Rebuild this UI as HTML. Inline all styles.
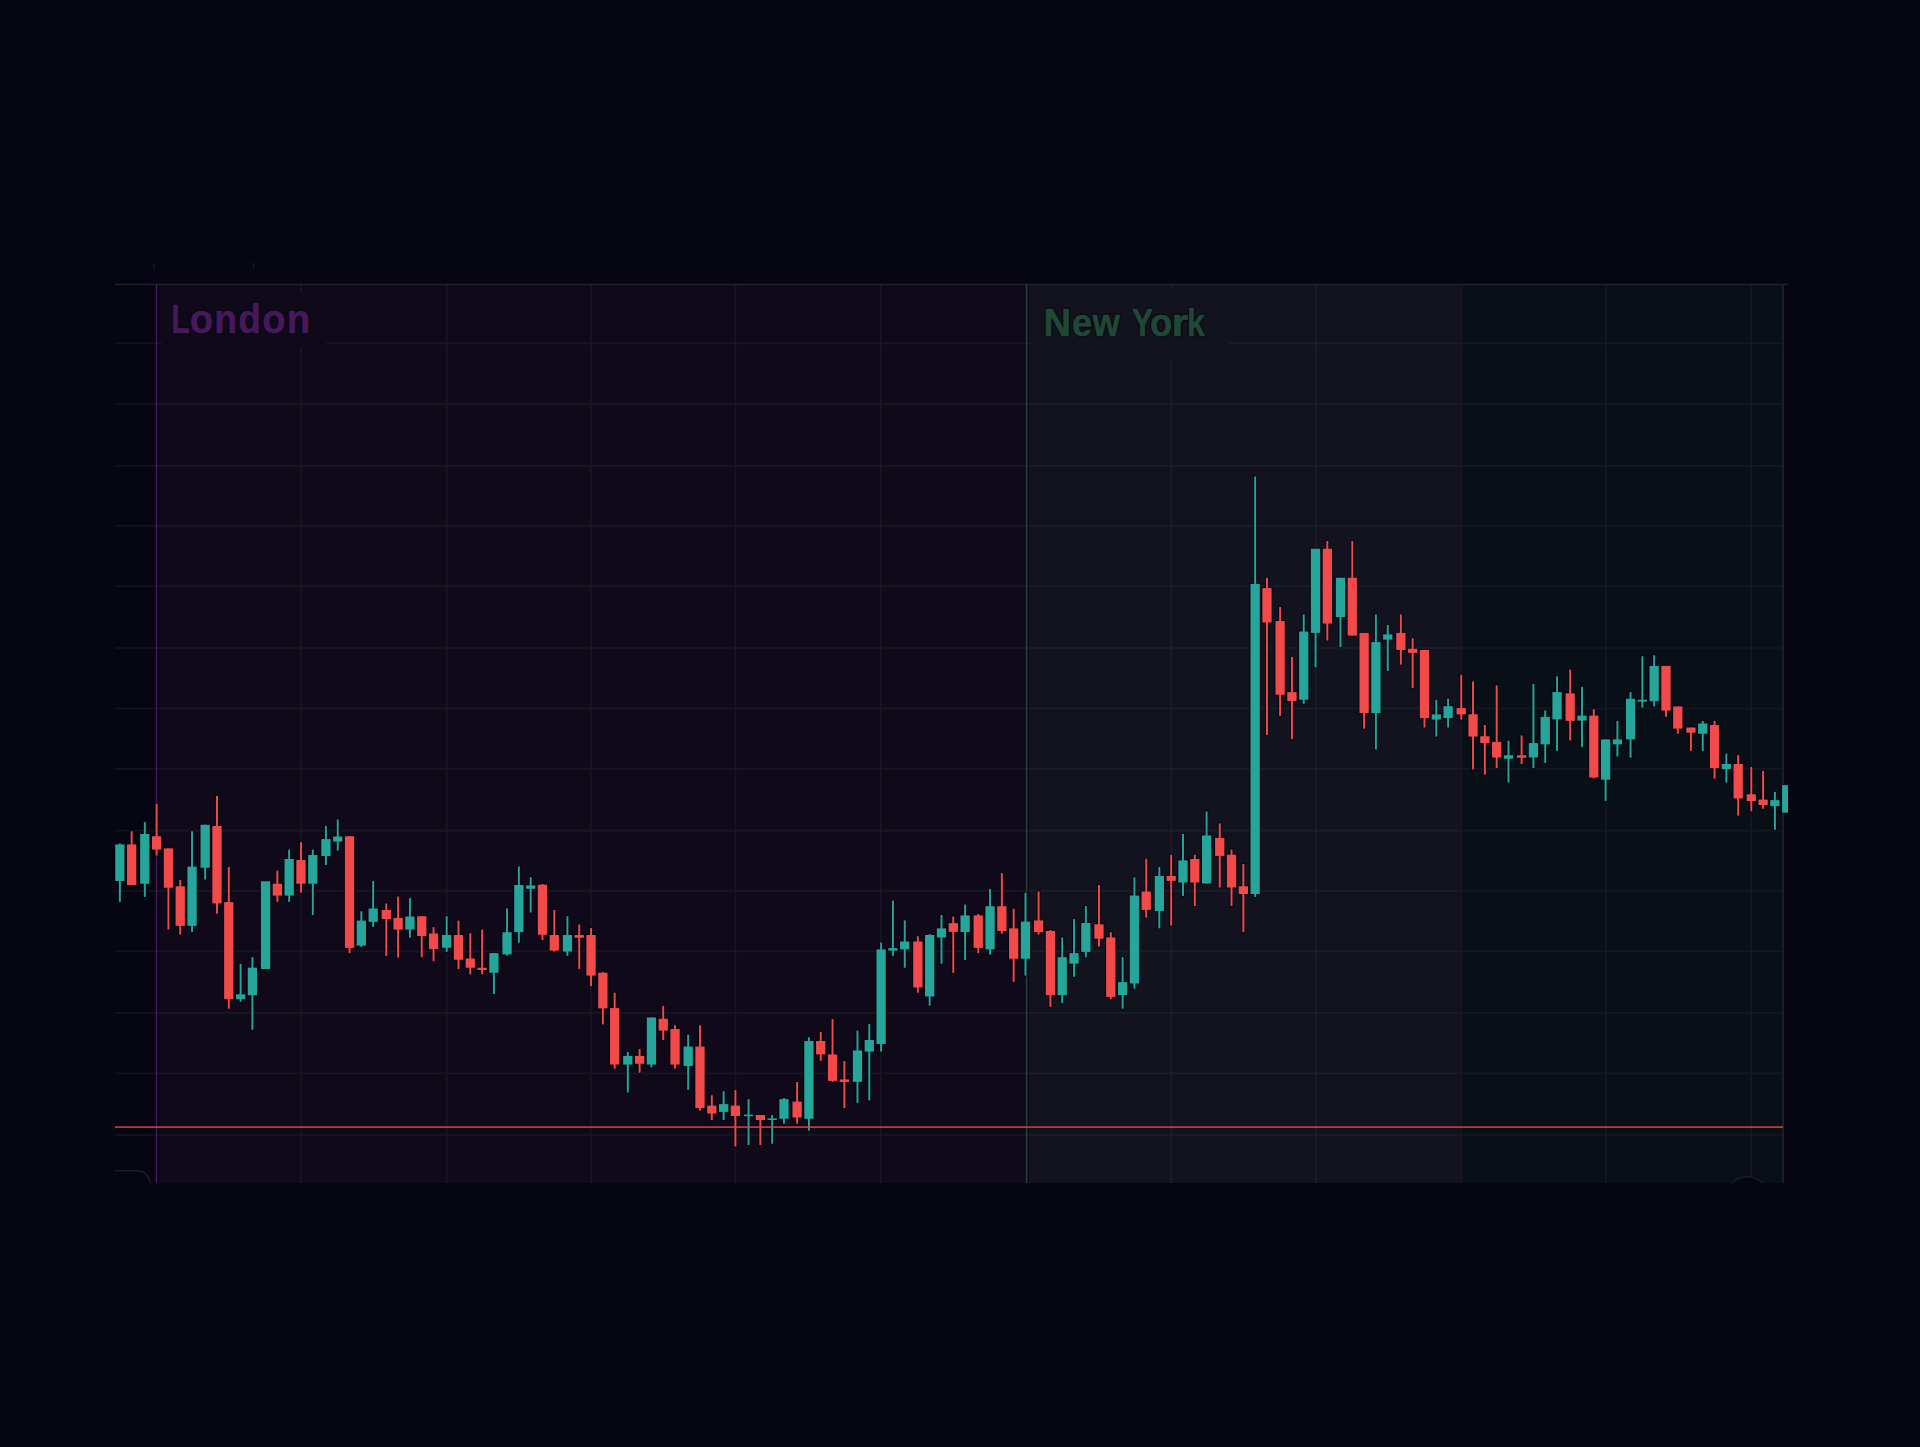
<!DOCTYPE html>
<html><head><meta charset="utf-8"><title>Chart</title>
<style>html,body{margin:0;padding:0;background:#050611;}body{width:1920px;height:1447px;overflow:hidden;font-family:"Liberation Sans",sans-serif;}svg{display:block}</style>
</head><body>
<svg width="1920" height="1447" viewBox="0 0 1920 1447">
<rect x="0" y="0" width="1920" height="1447" fill="#050611"/>
<rect x="158.7" y="284.4" width="870.2" height="898.6" fill="#10091a"/>
<rect x="1028.9" y="284.4" width="431.0" height="898.6" fill="#12131e"/>
<rect x="1459.9" y="284.4" width="323.0999999999999" height="898.6" fill="#090f16"/>
<rect x="115.0" y="342.50" width="43.70" height="1.8" fill="#11131d"/>
<rect x="115.0" y="403.20" width="43.70" height="1.8" fill="#11131d"/>
<rect x="115.0" y="465.00" width="43.70" height="1.8" fill="#11131d"/>
<rect x="115.0" y="525.00" width="43.70" height="1.8" fill="#11131d"/>
<rect x="115.0" y="585.35" width="43.70" height="1.8" fill="#11131d"/>
<rect x="115.0" y="647.10" width="43.70" height="1.8" fill="#11131d"/>
<rect x="115.0" y="707.60" width="43.70" height="1.8" fill="#11131d"/>
<rect x="115.0" y="767.90" width="43.70" height="1.8" fill="#11131d"/>
<rect x="115.0" y="829.70" width="43.70" height="1.8" fill="#11131d"/>
<rect x="115.0" y="890.00" width="43.70" height="1.8" fill="#11131d"/>
<rect x="115.0" y="950.50" width="43.70" height="1.8" fill="#11131d"/>
<rect x="115.0" y="1012.00" width="43.70" height="1.8" fill="#11131d"/>
<rect x="115.0" y="1072.55" width="43.70" height="1.8" fill="#11131d"/>
<rect x="115.0" y="1134.10" width="43.70" height="1.8" fill="#11131d"/>
<rect x="158.7" y="342.50" width="870.20" height="1.8" fill="#181721"/>
<rect x="158.7" y="403.20" width="870.20" height="1.8" fill="#181721"/>
<rect x="158.7" y="465.00" width="870.20" height="1.8" fill="#181721"/>
<rect x="158.7" y="525.00" width="870.20" height="1.8" fill="#181721"/>
<rect x="158.7" y="585.35" width="870.20" height="1.8" fill="#181721"/>
<rect x="158.7" y="647.10" width="870.20" height="1.8" fill="#181721"/>
<rect x="158.7" y="707.60" width="870.20" height="1.8" fill="#181721"/>
<rect x="158.7" y="767.90" width="870.20" height="1.8" fill="#181721"/>
<rect x="158.7" y="829.70" width="870.20" height="1.8" fill="#181721"/>
<rect x="158.7" y="890.00" width="870.20" height="1.8" fill="#181721"/>
<rect x="158.7" y="950.50" width="870.20" height="1.8" fill="#181721"/>
<rect x="158.7" y="1012.00" width="870.20" height="1.8" fill="#181721"/>
<rect x="158.7" y="1072.55" width="870.20" height="1.8" fill="#181721"/>
<rect x="158.7" y="1134.10" width="870.20" height="1.8" fill="#181721"/>
<rect x="300.25" y="284.4" width="1.7" height="898.6" fill="#181721"/>
<rect x="445.95" y="284.4" width="1.7" height="898.6" fill="#181721"/>
<rect x="590.15" y="284.4" width="1.7" height="898.6" fill="#181721"/>
<rect x="734.65" y="284.4" width="1.7" height="898.6" fill="#181721"/>
<rect x="880.05" y="284.4" width="1.7" height="898.6" fill="#181721"/>
<rect x="1028.9" y="342.50" width="431.00" height="1.8" fill="#1b1f29"/>
<rect x="1028.9" y="403.20" width="431.00" height="1.8" fill="#1b1f29"/>
<rect x="1028.9" y="465.00" width="431.00" height="1.8" fill="#1b1f29"/>
<rect x="1028.9" y="525.00" width="431.00" height="1.8" fill="#1b1f29"/>
<rect x="1028.9" y="585.35" width="431.00" height="1.8" fill="#1b1f29"/>
<rect x="1028.9" y="647.10" width="431.00" height="1.8" fill="#1b1f29"/>
<rect x="1028.9" y="707.60" width="431.00" height="1.8" fill="#1b1f29"/>
<rect x="1028.9" y="767.90" width="431.00" height="1.8" fill="#1b1f29"/>
<rect x="1028.9" y="829.70" width="431.00" height="1.8" fill="#1b1f29"/>
<rect x="1028.9" y="890.00" width="431.00" height="1.8" fill="#1b1f29"/>
<rect x="1028.9" y="950.50" width="431.00" height="1.8" fill="#1b1f29"/>
<rect x="1028.9" y="1012.00" width="431.00" height="1.8" fill="#1b1f29"/>
<rect x="1028.9" y="1072.55" width="431.00" height="1.8" fill="#1b1f29"/>
<rect x="1028.9" y="1134.10" width="431.00" height="1.8" fill="#1b1f29"/>
<rect x="1170.55" y="284.4" width="1.7" height="898.6" fill="#1b1f29"/>
<rect x="1314.85" y="284.4" width="1.7" height="898.6" fill="#1b1f29"/>
<rect x="1459.9" y="342.50" width="323.10" height="1.8" fill="#191522"/>
<rect x="1459.9" y="403.20" width="323.10" height="1.8" fill="#191522"/>
<rect x="1459.9" y="465.00" width="323.10" height="1.8" fill="#191522"/>
<rect x="1459.9" y="525.00" width="323.10" height="1.8" fill="#191522"/>
<rect x="1459.9" y="585.35" width="323.10" height="1.8" fill="#191522"/>
<rect x="1459.9" y="647.10" width="323.10" height="1.8" fill="#191522"/>
<rect x="1459.9" y="707.60" width="323.10" height="1.8" fill="#191522"/>
<rect x="1459.9" y="767.90" width="323.10" height="1.8" fill="#191522"/>
<rect x="1459.9" y="829.70" width="323.10" height="1.8" fill="#191522"/>
<rect x="1459.9" y="890.00" width="323.10" height="1.8" fill="#191522"/>
<rect x="1459.9" y="950.50" width="323.10" height="1.8" fill="#191522"/>
<rect x="1459.9" y="1012.00" width="323.10" height="1.8" fill="#191522"/>
<rect x="1459.9" y="1072.55" width="323.10" height="1.8" fill="#191522"/>
<rect x="1459.9" y="1134.10" width="323.10" height="1.8" fill="#191522"/>
<rect x="1460.00" y="284.4" width="1.7" height="898.6" fill="#191522"/>
<rect x="1604.95" y="284.4" width="1.7" height="898.6" fill="#191522"/>
<rect x="1750.35" y="284.4" width="1.7" height="898.6" fill="#191522"/>
<rect x="1459.9" y="284.4" width="2.0" height="898.6" fill="#1a1523"/>
<rect x="115.0" y="283.6" width="1673.0" height="1.6" fill="#1b202c"/>
<rect x="1782.1" y="284.4" width="1.9" height="898.6" fill="#1b202c"/>
<rect x="155.8" y="284.4" width="1.4" height="898.6" fill="#481c60"/>
<rect x="1025.9" y="284.4" width="1.5" height="898.6" fill="#1f4438"/>
<rect x="153.4" y="263" width="1.1" height="6.3" fill="#1a1f2b"/>
<rect x="253.2" y="262.5" width="1.1" height="7" fill="#1a1f2b"/>
<clipPath id="cp0"><rect x="0" y="0" width="1920" height="1183.0"/></clipPath>
<path d="M115 1170.75 H136.9 A13.5 13.5 0 0 1 150.4 1184.25" fill="none" stroke="#1b1f29" stroke-width="1.4" clip-path="url(#cp0)"/>
<clipPath id="cp"><rect x="115.0" y="284.4" width="1673.0" height="898.6"/></clipPath>
<circle cx="1747.3" cy="1199.2" r="22.5" fill="#050611" stroke="#1c1e2a" stroke-width="1.4" clip-path="url(#cp)"/>
<rect x="162" y="292" width="164" height="55" fill="#10091a"/>
<rect x="1031" y="288" width="198" height="72" fill="#12131e"/>
<g clip-path="url(#cp)">
<g fill="#01040c" opacity="0.72">
<rect x="117.88" y="842.40" width="3.95" height="60.50"/>
<rect x="114.21" y="843.40" width="11.3" height="38.60"/>
<rect x="129.69" y="830.25" width="3.95" height="55.75"/>
<rect x="126.02" y="843.40" width="11.3" height="42.60"/>
<rect x="142.82" y="821.10" width="3.95" height="76.80"/>
<rect x="139.14" y="833.00" width="11.3" height="51.75"/>
<rect x="154.63" y="802.75" width="3.95" height="53.85"/>
<rect x="150.96" y="835.25" width="11.3" height="15.35"/>
<rect x="166.44" y="847.40" width="3.95" height="83.20"/>
<rect x="162.77" y="847.40" width="11.3" height="41.35"/>
<rect x="178.26" y="879.00" width="3.95" height="56.60"/>
<rect x="174.58" y="885.25" width="11.3" height="41.65"/>
<rect x="190.07" y="830.25" width="3.95" height="102.85"/>
<rect x="186.39" y="865.60" width="11.3" height="61.30"/>
<rect x="203.19" y="823.75" width="3.95" height="56.85"/>
<rect x="199.52" y="823.75" width="11.3" height="45.00"/>
<rect x="215.01" y="794.90" width="3.95" height="119.85"/>
<rect x="211.33" y="825.00" width="11.3" height="79.40"/>
<rect x="226.82" y="865.90" width="3.95" height="143.90"/>
<rect x="223.14" y="901.10" width="11.3" height="99.10"/>
<rect x="238.63" y="962.80" width="3.95" height="40.10"/>
<rect x="234.96" y="993.30" width="11.3" height="7.00"/>
<rect x="250.44" y="956.10" width="3.95" height="74.80"/>
<rect x="246.77" y="966.60" width="11.3" height="29.70"/>
<rect x="259.89" y="880.25" width="11.3" height="89.75"/>
<rect x="275.38" y="869.60" width="3.95" height="33.30"/>
<rect x="271.71" y="882.75" width="11.3" height="13.85"/>
<rect x="287.19" y="848.60" width="3.95" height="54.30"/>
<rect x="283.52" y="858.00" width="11.3" height="38.60"/>
<rect x="299.01" y="841.10" width="3.95" height="52.65"/>
<rect x="295.33" y="859.00" width="11.3" height="25.75"/>
<rect x="310.82" y="848.60" width="3.95" height="67.40"/>
<rect x="307.14" y="854.00" width="11.3" height="30.75"/>
<rect x="323.94" y="825.00" width="3.95" height="41.00"/>
<rect x="320.27" y="838.10" width="11.3" height="18.90"/>
<rect x="335.76" y="818.40" width="3.95" height="33.20"/>
<rect x="332.08" y="835.50" width="11.3" height="7.10"/>
<rect x="347.57" y="835.25" width="3.95" height="118.85"/>
<rect x="343.89" y="835.25" width="11.3" height="113.65"/>
<rect x="359.38" y="910.25" width="3.95" height="37.65"/>
<rect x="355.71" y="919.60" width="11.3" height="27.00"/>
<rect x="371.19" y="880.00" width="3.95" height="47.90"/>
<rect x="367.52" y="907.50" width="11.3" height="15.40"/>
<rect x="384.32" y="902.50" width="3.95" height="54.50"/>
<rect x="380.64" y="909.00" width="11.3" height="11.00"/>
<rect x="396.13" y="895.60" width="3.95" height="62.90"/>
<rect x="392.46" y="916.90" width="11.3" height="13.70"/>
<rect x="407.94" y="897.10" width="3.95" height="41.65"/>
<rect x="404.27" y="915.50" width="11.3" height="15.10"/>
<rect x="419.76" y="915.25" width="3.95" height="43.00"/>
<rect x="416.08" y="915.25" width="11.3" height="21.75"/>
<rect x="431.57" y="926.10" width="3.95" height="36.15"/>
<rect x="427.89" y="932.50" width="11.3" height="17.60"/>
<rect x="444.69" y="915.25" width="3.95" height="37.65"/>
<rect x="441.02" y="934.00" width="11.3" height="14.75"/>
<rect x="456.51" y="919.60" width="3.95" height="50.50"/>
<rect x="452.83" y="934.00" width="11.3" height="26.75"/>
<rect x="468.32" y="932.10" width="3.95" height="43.30"/>
<rect x="464.64" y="957.50" width="11.3" height="11.25"/>
<rect x="480.13" y="928.60" width="3.95" height="46.80"/>
<rect x="476.46" y="966.75" width="11.3" height="4.25"/>
<rect x="491.94" y="952.10" width="3.95" height="42.90"/>
<rect x="488.27" y="952.10" width="11.3" height="21.65"/>
<rect x="505.07" y="907.40" width="3.95" height="49.20"/>
<rect x="501.39" y="931.25" width="11.3" height="24.15"/>
<rect x="516.88" y="865.50" width="3.95" height="78.25"/>
<rect x="513.21" y="884.00" width="11.3" height="49.10"/>
<rect x="528.69" y="876.10" width="3.95" height="37.40"/>
<rect x="525.02" y="884.40" width="11.3" height="5.35"/>
<rect x="540.51" y="883.00" width="3.95" height="58.00"/>
<rect x="536.83" y="883.75" width="11.3" height="52.00"/>
<rect x="552.32" y="909.00" width="3.95" height="43.60"/>
<rect x="548.64" y="934.00" width="11.3" height="17.60"/>
<rect x="565.44" y="915.25" width="3.95" height="41.65"/>
<rect x="561.77" y="934.00" width="11.3" height="18.60"/>
<rect x="577.26" y="923.40" width="3.95" height="46.60"/>
<rect x="573.58" y="934.00" width="11.3" height="4.75"/>
<rect x="589.07" y="927.10" width="3.95" height="60.15"/>
<rect x="585.39" y="934.00" width="11.3" height="42.60"/>
<rect x="600.88" y="970.90" width="3.95" height="54.50"/>
<rect x="597.21" y="971.75" width="11.3" height="37.65"/>
<rect x="612.69" y="991.75" width="3.95" height="78.00"/>
<rect x="609.02" y="1007.10" width="11.3" height="58.50"/>
<rect x="625.82" y="1050.90" width="3.95" height="42.60"/>
<rect x="622.14" y="1054.90" width="11.3" height="10.70"/>
<rect x="637.63" y="1048.10" width="3.95" height="25.65"/>
<rect x="633.96" y="1054.90" width="11.3" height="9.85"/>
<rect x="649.44" y="1016.50" width="3.95" height="52.00"/>
<rect x="645.77" y="1016.50" width="11.3" height="49.10"/>
<rect x="661.26" y="1004.90" width="3.95" height="36.10"/>
<rect x="657.58" y="1017.75" width="11.3" height="13.85"/>
<rect x="673.07" y="1024.25" width="3.95" height="45.50"/>
<rect x="669.39" y="1028.00" width="11.3" height="37.60"/>
<rect x="686.19" y="1033.60" width="3.95" height="57.30"/>
<rect x="682.52" y="1045.50" width="11.3" height="21.50"/>
<rect x="698.01" y="1024.30" width="3.95" height="87.30"/>
<rect x="694.33" y="1045.50" width="11.3" height="63.60"/>
<rect x="709.82" y="1094.25" width="3.95" height="26.75"/>
<rect x="706.14" y="1104.60" width="11.3" height="9.90"/>
<rect x="721.63" y="1090.25" width="3.95" height="30.75"/>
<rect x="717.96" y="1103.10" width="11.3" height="9.80"/>
<rect x="733.44" y="1089.00" width="3.95" height="58.50"/>
<rect x="729.77" y="1104.60" width="11.3" height="12.40"/>
<rect x="746.57" y="1098.10" width="3.95" height="47.90"/>
<rect x="742.89" y="1113.60" width="11.3" height="3.65"/>
<rect x="758.38" y="1114.00" width="3.95" height="32.00"/>
<rect x="754.71" y="1114.00" width="11.3" height="7.00"/>
<rect x="770.19" y="1114.00" width="3.95" height="30.75"/>
<rect x="766.52" y="1117.40" width="11.3" height="3.60"/>
<rect x="782.01" y="1097.10" width="3.95" height="27.65"/>
<rect x="778.33" y="1098.10" width="11.3" height="21.65"/>
<rect x="795.13" y="1081.00" width="3.95" height="43.75"/>
<rect x="791.46" y="1100.60" width="11.3" height="17.90"/>
<rect x="806.94" y="1036.20" width="3.95" height="95.40"/>
<rect x="803.27" y="1040.00" width="11.3" height="79.75"/>
<rect x="818.76" y="1030.90" width="3.95" height="31.00"/>
<rect x="815.08" y="1040.00" width="11.3" height="15.40"/>
<rect x="830.57" y="1018.00" width="3.95" height="64.90"/>
<rect x="826.89" y="1053.40" width="11.3" height="28.50"/>
<rect x="842.38" y="1060.00" width="3.95" height="49.10"/>
<rect x="838.71" y="1078.40" width="11.3" height="4.70"/>
<rect x="855.51" y="1029.60" width="3.95" height="74.30"/>
<rect x="851.83" y="1049.40" width="11.3" height="33.50"/>
<rect x="867.32" y="1023.10" width="3.95" height="78.30"/>
<rect x="863.64" y="1039.00" width="11.3" height="13.60"/>
<rect x="879.13" y="941.50" width="3.95" height="111.10"/>
<rect x="875.46" y="948.40" width="11.3" height="96.60"/>
<rect x="890.94" y="899.60" width="3.95" height="57.40"/>
<rect x="887.27" y="947.10" width="11.3" height="4.50"/>
<rect x="902.76" y="919.40" width="3.95" height="49.35"/>
<rect x="899.08" y="940.50" width="11.3" height="9.90"/>
<rect x="915.88" y="935.25" width="3.95" height="58.50"/>
<rect x="912.21" y="940.50" width="11.3" height="48.00"/>
<rect x="927.69" y="933.00" width="3.95" height="73.60"/>
<rect x="924.02" y="934.00" width="11.3" height="63.50"/>
<rect x="939.51" y="914.00" width="3.95" height="50.75"/>
<rect x="935.83" y="927.40" width="11.3" height="11.10"/>
<rect x="951.32" y="915.50" width="3.95" height="58.40"/>
<rect x="947.64" y="922.10" width="11.3" height="10.80"/>
<rect x="963.13" y="903.60" width="3.95" height="57.40"/>
<rect x="959.46" y="914.40" width="11.3" height="18.70"/>
<rect x="976.26" y="913.00" width="3.95" height="41.10"/>
<rect x="972.58" y="914.40" width="11.3" height="34.50"/>
<rect x="988.07" y="888.10" width="3.95" height="67.50"/>
<rect x="984.39" y="905.25" width="11.3" height="45.15"/>
<rect x="999.88" y="872.10" width="3.95" height="62.65"/>
<rect x="996.21" y="905.25" width="11.3" height="26.75"/>
<rect x="1011.69" y="907.75" width="3.95" height="75.15"/>
<rect x="1008.02" y="927.40" width="11.3" height="32.35"/>
<rect x="1023.51" y="891.75" width="3.95" height="84.85"/>
<rect x="1019.83" y="920.60" width="11.3" height="39.15"/>
<rect x="1036.63" y="890.50" width="3.95" height="45.25"/>
<rect x="1032.96" y="919.40" width="11.3" height="13.70"/>
<rect x="1048.44" y="929.00" width="3.95" height="78.90"/>
<rect x="1044.77" y="929.90" width="11.3" height="66.30"/>
<rect x="1060.26" y="936.40" width="3.95" height="67.80"/>
<rect x="1056.58" y="956.20" width="11.3" height="40.00"/>
<rect x="1072.07" y="918.00" width="3.95" height="59.80"/>
<rect x="1068.39" y="952.10" width="11.3" height="12.60"/>
<rect x="1083.88" y="905.00" width="3.95" height="53.30"/>
<rect x="1080.21" y="922.00" width="11.3" height="30.90"/>
<rect x="1097.01" y="884.00" width="3.95" height="63.60"/>
<rect x="1093.33" y="923.30" width="11.3" height="16.40"/>
<rect x="1108.82" y="931.20" width="3.95" height="69.00"/>
<rect x="1105.14" y="936.40" width="11.3" height="61.50"/>
<rect x="1120.63" y="956.10" width="3.95" height="53.60"/>
<rect x="1116.96" y="981.10" width="11.3" height="15.00"/>
<rect x="1132.44" y="876.25" width="3.95" height="113.55"/>
<rect x="1128.77" y="894.50" width="11.3" height="90.00"/>
<rect x="1144.26" y="857.75" width="3.95" height="60.95"/>
<rect x="1140.58" y="890.50" width="11.3" height="20.40"/>
<rect x="1157.38" y="865.90" width="3.95" height="63.50"/>
<rect x="1153.71" y="874.90" width="11.3" height="37.10"/>
<rect x="1169.19" y="853.75" width="3.95" height="72.95"/>
<rect x="1165.52" y="874.90" width="11.3" height="7.00"/>
<rect x="1181.01" y="833.00" width="3.95" height="63.90"/>
<rect x="1177.33" y="859.40" width="11.3" height="24.10"/>
<rect x="1192.82" y="853.75" width="3.95" height="53.25"/>
<rect x="1189.14" y="858.00" width="11.3" height="25.50"/>
<rect x="1204.63" y="810.50" width="3.95" height="74.00"/>
<rect x="1200.96" y="834.40" width="11.3" height="50.10"/>
<rect x="1217.76" y="822.40" width="3.95" height="66.10"/>
<rect x="1214.08" y="836.90" width="11.3" height="20.00"/>
<rect x="1229.57" y="848.60" width="3.95" height="58.40"/>
<rect x="1225.89" y="853.75" width="11.3" height="34.75"/>
<rect x="1241.38" y="863.10" width="3.95" height="70.00"/>
<rect x="1237.71" y="885.25" width="11.3" height="9.75"/>
<rect x="1253.19" y="475.50" width="3.95" height="422.40"/>
<rect x="1249.52" y="583.00" width="11.3" height="312.00"/>
<rect x="1265.01" y="576.75" width="3.95" height="159.25"/>
<rect x="1261.33" y="587.10" width="11.3" height="36.40"/>
<rect x="1278.13" y="605.90" width="3.95" height="111.00"/>
<rect x="1274.46" y="620.00" width="11.3" height="75.75"/>
<rect x="1289.94" y="655.90" width="3.95" height="84.20"/>
<rect x="1286.27" y="691.10" width="11.3" height="10.90"/>
<rect x="1301.76" y="613.40" width="3.95" height="91.35"/>
<rect x="1298.08" y="630.50" width="11.3" height="70.25"/>
<rect x="1313.57" y="547.75" width="3.95" height="120.50"/>
<rect x="1309.89" y="547.75" width="11.3" height="86.15"/>
<rect x="1325.38" y="540.00" width="3.95" height="101.60"/>
<rect x="1321.71" y="547.75" width="11.3" height="76.85"/>
<rect x="1338.51" y="576.75" width="3.95" height="71.50"/>
<rect x="1334.83" y="576.75" width="11.3" height="41.35"/>
<rect x="1350.32" y="540.00" width="3.95" height="96.60"/>
<rect x="1346.64" y="576.75" width="11.3" height="59.85"/>
<rect x="1362.13" y="631.90" width="3.95" height="97.85"/>
<rect x="1358.46" y="631.90" width="11.3" height="82.20"/>
<rect x="1373.94" y="613.40" width="3.95" height="137.20"/>
<rect x="1370.27" y="641.10" width="11.3" height="73.00"/>
<rect x="1385.76" y="624.00" width="3.95" height="48.00"/>
<rect x="1382.08" y="633.40" width="11.3" height="7.20"/>
<rect x="1398.88" y="613.40" width="3.95" height="52.20"/>
<rect x="1395.21" y="631.90" width="11.3" height="19.10"/>
<rect x="1410.69" y="637.10" width="3.95" height="52.00"/>
<rect x="1407.02" y="647.75" width="11.3" height="6.15"/>
<rect x="1422.51" y="649.00" width="3.95" height="79.50"/>
<rect x="1418.83" y="649.00" width="11.3" height="70.10"/>
<rect x="1434.32" y="698.75" width="3.95" height="38.85"/>
<rect x="1430.64" y="713.40" width="11.3" height="7.20"/>
<rect x="1446.13" y="697.50" width="3.95" height="31.00"/>
<rect x="1442.46" y="705.25" width="11.3" height="13.85"/>
<rect x="1459.26" y="673.75" width="3.95" height="46.85"/>
<rect x="1455.58" y="707.10" width="11.3" height="8.30"/>
<rect x="1471.07" y="680.40" width="3.95" height="90.00"/>
<rect x="1467.39" y="713.30" width="11.3" height="24.30"/>
<rect x="1482.88" y="724.00" width="3.95" height="51.60"/>
<rect x="1479.21" y="735.25" width="11.3" height="8.85"/>
<rect x="1494.69" y="684.40" width="3.95" height="84.70"/>
<rect x="1491.02" y="740.90" width="11.3" height="17.60"/>
<rect x="1506.51" y="739.60" width="3.95" height="43.90"/>
<rect x="1502.83" y="754.25" width="11.3" height="5.50"/>
<rect x="1519.63" y="734.40" width="3.95" height="30.60"/>
<rect x="1515.96" y="754.25" width="11.3" height="4.50"/>
<rect x="1531.44" y="683.00" width="3.95" height="86.10"/>
<rect x="1527.77" y="742.10" width="11.3" height="16.40"/>
<rect x="1543.26" y="709.40" width="3.95" height="54.50"/>
<rect x="1539.58" y="715.90" width="11.3" height="29.50"/>
<rect x="1555.07" y="675.25" width="3.95" height="76.65"/>
<rect x="1551.39" y="691.10" width="11.3" height="29.30"/>
<rect x="1568.19" y="668.60" width="3.95" height="72.80"/>
<rect x="1564.52" y="692.40" width="11.3" height="29.50"/>
<rect x="1580.01" y="685.90" width="3.95" height="62.20"/>
<rect x="1576.33" y="714.60" width="11.3" height="7.00"/>
<rect x="1591.82" y="708.10" width="3.95" height="71.40"/>
<rect x="1588.14" y="714.60" width="11.3" height="63.90"/>
<rect x="1603.63" y="738.40" width="3.95" height="63.50"/>
<rect x="1599.96" y="738.40" width="11.3" height="42.35"/>
<rect x="1615.44" y="720.00" width="3.95" height="37.50"/>
<rect x="1611.77" y="738.40" width="11.3" height="7.00"/>
<rect x="1628.57" y="691.10" width="3.95" height="67.65"/>
<rect x="1624.89" y="697.75" width="11.3" height="42.65"/>
<rect x="1640.38" y="655.25" width="3.95" height="53.50"/>
<rect x="1636.71" y="698.75" width="11.3" height="3.85"/>
<rect x="1652.19" y="654.25" width="3.95" height="53.25"/>
<rect x="1648.52" y="664.90" width="11.3" height="37.35"/>
<rect x="1664.01" y="664.90" width="3.95" height="53.00"/>
<rect x="1660.33" y="664.90" width="11.3" height="46.70"/>
<rect x="1675.82" y="705.50" width="3.95" height="29.25"/>
<rect x="1672.14" y="705.50" width="11.3" height="24.10"/>
<rect x="1688.94" y="726.50" width="3.95" height="25.35"/>
<rect x="1685.27" y="726.50" width="11.3" height="7.20"/>
<rect x="1700.76" y="720.00" width="3.95" height="31.85"/>
<rect x="1697.08" y="722.50" width="11.3" height="12.30"/>
<rect x="1712.57" y="719.80" width="3.95" height="60.00"/>
<rect x="1708.89" y="724.00" width="11.3" height="45.20"/>
<rect x="1724.38" y="752.50" width="3.95" height="31.20"/>
<rect x="1720.71" y="763.00" width="11.3" height="7.20"/>
<rect x="1736.19" y="753.90" width="3.95" height="62.70"/>
<rect x="1732.52" y="763.00" width="11.3" height="36.50"/>
<rect x="1749.32" y="765.75" width="3.95" height="46.65"/>
<rect x="1745.64" y="793.30" width="11.3" height="8.80"/>
<rect x="1761.13" y="769.90" width="3.95" height="39.90"/>
<rect x="1757.46" y="798.60" width="11.3" height="7.40"/>
<rect x="1772.94" y="790.90" width="3.95" height="40.00"/>
<rect x="1769.27" y="799.10" width="11.3" height="8.10"/>
<rect x="1781.08" y="784.10" width="11.3" height="29.60"/>
</g>
<rect x="118.88" y="843.40" width="1.95" height="58.50" fill="#26a69a"/>
<rect x="115.21" y="844.40" width="9.3" height="36.60" fill="#26a69a"/>
<rect x="130.69" y="831.25" width="1.95" height="53.75" fill="#f24a4a"/>
<rect x="127.02" y="844.40" width="9.3" height="40.60" fill="#f24a4a"/>
<rect x="143.82" y="822.10" width="1.95" height="74.80" fill="#26a69a"/>
<rect x="140.14" y="834.00" width="9.3" height="49.75" fill="#26a69a"/>
<rect x="155.63" y="803.75" width="1.95" height="51.85" fill="#f24a4a"/>
<rect x="151.96" y="836.25" width="9.3" height="13.35" fill="#f24a4a"/>
<rect x="167.44" y="848.40" width="1.95" height="81.20" fill="#f24a4a"/>
<rect x="163.77" y="848.40" width="9.3" height="39.35" fill="#f24a4a"/>
<rect x="179.26" y="880.00" width="1.95" height="54.60" fill="#f24a4a"/>
<rect x="175.58" y="886.25" width="9.3" height="39.65" fill="#f24a4a"/>
<rect x="191.07" y="831.25" width="1.95" height="100.85" fill="#26a69a"/>
<rect x="187.39" y="866.60" width="9.3" height="59.30" fill="#26a69a"/>
<rect x="204.19" y="824.75" width="1.95" height="54.85" fill="#26a69a"/>
<rect x="200.52" y="824.75" width="9.3" height="43.00" fill="#26a69a"/>
<rect x="216.01" y="795.90" width="1.95" height="117.85" fill="#f24a4a"/>
<rect x="212.33" y="826.00" width="9.3" height="77.40" fill="#f24a4a"/>
<rect x="227.82" y="866.90" width="1.95" height="141.90" fill="#f24a4a"/>
<rect x="224.14" y="902.10" width="9.3" height="97.10" fill="#f24a4a"/>
<rect x="239.63" y="963.80" width="1.95" height="38.10" fill="#26a69a"/>
<rect x="235.96" y="994.30" width="9.3" height="5.00" fill="#26a69a"/>
<rect x="251.44" y="957.10" width="1.95" height="72.80" fill="#26a69a"/>
<rect x="247.77" y="967.60" width="9.3" height="27.70" fill="#26a69a"/>
<rect x="260.89" y="881.25" width="9.3" height="87.75" fill="#26a69a"/>
<rect x="276.38" y="870.60" width="1.95" height="31.30" fill="#f24a4a"/>
<rect x="272.71" y="883.75" width="9.3" height="11.85" fill="#f24a4a"/>
<rect x="288.19" y="849.60" width="1.95" height="52.30" fill="#26a69a"/>
<rect x="284.52" y="859.00" width="9.3" height="36.60" fill="#26a69a"/>
<rect x="300.01" y="842.10" width="1.95" height="50.65" fill="#f24a4a"/>
<rect x="296.33" y="860.00" width="9.3" height="23.75" fill="#f24a4a"/>
<rect x="311.82" y="849.60" width="1.95" height="65.40" fill="#26a69a"/>
<rect x="308.14" y="855.00" width="9.3" height="28.75" fill="#26a69a"/>
<rect x="324.94" y="826.00" width="1.95" height="39.00" fill="#26a69a"/>
<rect x="321.27" y="839.10" width="9.3" height="16.90" fill="#26a69a"/>
<rect x="336.76" y="819.40" width="1.95" height="31.20" fill="#26a69a"/>
<rect x="333.08" y="836.50" width="9.3" height="5.10" fill="#26a69a"/>
<rect x="348.57" y="836.25" width="1.95" height="116.85" fill="#f24a4a"/>
<rect x="344.89" y="836.25" width="9.3" height="111.65" fill="#f24a4a"/>
<rect x="360.38" y="911.25" width="1.95" height="35.65" fill="#26a69a"/>
<rect x="356.71" y="920.60" width="9.3" height="25.00" fill="#26a69a"/>
<rect x="372.19" y="881.00" width="1.95" height="45.90" fill="#26a69a"/>
<rect x="368.52" y="908.50" width="9.3" height="13.40" fill="#26a69a"/>
<rect x="385.32" y="903.50" width="1.95" height="52.50" fill="#f24a4a"/>
<rect x="381.64" y="910.00" width="9.3" height="9.00" fill="#f24a4a"/>
<rect x="397.13" y="896.60" width="1.95" height="60.90" fill="#f24a4a"/>
<rect x="393.46" y="917.90" width="9.3" height="11.70" fill="#f24a4a"/>
<rect x="408.94" y="898.10" width="1.95" height="39.65" fill="#26a69a"/>
<rect x="405.27" y="916.50" width="9.3" height="13.10" fill="#26a69a"/>
<rect x="420.76" y="916.25" width="1.95" height="41.00" fill="#f24a4a"/>
<rect x="417.08" y="916.25" width="9.3" height="19.75" fill="#f24a4a"/>
<rect x="432.57" y="927.10" width="1.95" height="34.15" fill="#f24a4a"/>
<rect x="428.89" y="933.50" width="9.3" height="15.60" fill="#f24a4a"/>
<rect x="445.69" y="916.25" width="1.95" height="35.65" fill="#26a69a"/>
<rect x="442.02" y="935.00" width="9.3" height="12.75" fill="#26a69a"/>
<rect x="457.51" y="920.60" width="1.95" height="48.50" fill="#f24a4a"/>
<rect x="453.83" y="935.00" width="9.3" height="24.75" fill="#f24a4a"/>
<rect x="469.32" y="933.10" width="1.95" height="41.30" fill="#f24a4a"/>
<rect x="465.64" y="958.50" width="9.3" height="9.25" fill="#f24a4a"/>
<rect x="481.13" y="929.60" width="1.95" height="44.80" fill="#f24a4a"/>
<rect x="477.46" y="967.75" width="9.3" height="2.25" fill="#f24a4a"/>
<rect x="492.94" y="953.10" width="1.95" height="40.90" fill="#26a69a"/>
<rect x="489.27" y="953.10" width="9.3" height="19.65" fill="#26a69a"/>
<rect x="506.07" y="908.40" width="1.95" height="47.20" fill="#26a69a"/>
<rect x="502.39" y="932.25" width="9.3" height="22.15" fill="#26a69a"/>
<rect x="517.88" y="866.50" width="1.95" height="76.25" fill="#26a69a"/>
<rect x="514.21" y="885.00" width="9.3" height="47.10" fill="#26a69a"/>
<rect x="529.69" y="877.10" width="1.95" height="35.40" fill="#26a69a"/>
<rect x="526.02" y="885.40" width="9.3" height="3.35" fill="#26a69a"/>
<rect x="541.51" y="884.00" width="1.95" height="56.00" fill="#f24a4a"/>
<rect x="537.83" y="884.75" width="9.3" height="50.00" fill="#f24a4a"/>
<rect x="553.32" y="910.00" width="1.95" height="41.60" fill="#f24a4a"/>
<rect x="549.64" y="935.00" width="9.3" height="15.60" fill="#f24a4a"/>
<rect x="566.44" y="916.25" width="1.95" height="39.65" fill="#26a69a"/>
<rect x="562.77" y="935.00" width="9.3" height="16.60" fill="#26a69a"/>
<rect x="578.26" y="924.40" width="1.95" height="44.60" fill="#f24a4a"/>
<rect x="574.58" y="935.00" width="9.3" height="2.75" fill="#f24a4a"/>
<rect x="590.07" y="928.10" width="1.95" height="58.15" fill="#f24a4a"/>
<rect x="586.39" y="935.00" width="9.3" height="40.60" fill="#f24a4a"/>
<rect x="601.88" y="971.90" width="1.95" height="52.50" fill="#f24a4a"/>
<rect x="598.21" y="972.75" width="9.3" height="35.65" fill="#f24a4a"/>
<rect x="613.69" y="992.75" width="1.95" height="76.00" fill="#f24a4a"/>
<rect x="610.02" y="1008.10" width="9.3" height="56.50" fill="#f24a4a"/>
<rect x="626.82" y="1051.90" width="1.95" height="40.60" fill="#26a69a"/>
<rect x="623.14" y="1055.90" width="9.3" height="8.70" fill="#26a69a"/>
<rect x="638.63" y="1049.10" width="1.95" height="23.65" fill="#f24a4a"/>
<rect x="634.96" y="1055.90" width="9.3" height="7.85" fill="#f24a4a"/>
<rect x="650.44" y="1017.50" width="1.95" height="50.00" fill="#26a69a"/>
<rect x="646.77" y="1017.50" width="9.3" height="47.10" fill="#26a69a"/>
<rect x="662.26" y="1005.90" width="1.95" height="34.10" fill="#f24a4a"/>
<rect x="658.58" y="1018.75" width="9.3" height="11.85" fill="#f24a4a"/>
<rect x="674.07" y="1025.25" width="1.95" height="43.50" fill="#f24a4a"/>
<rect x="670.39" y="1029.00" width="9.3" height="35.60" fill="#f24a4a"/>
<rect x="687.19" y="1034.60" width="1.95" height="55.30" fill="#26a69a"/>
<rect x="683.52" y="1046.50" width="9.3" height="19.50" fill="#26a69a"/>
<rect x="699.01" y="1025.30" width="1.95" height="85.30" fill="#f24a4a"/>
<rect x="695.33" y="1046.50" width="9.3" height="61.60" fill="#f24a4a"/>
<rect x="710.82" y="1095.25" width="1.95" height="24.75" fill="#f24a4a"/>
<rect x="707.14" y="1105.60" width="9.3" height="7.90" fill="#f24a4a"/>
<rect x="722.63" y="1091.25" width="1.95" height="28.75" fill="#26a69a"/>
<rect x="718.96" y="1104.10" width="9.3" height="7.80" fill="#26a69a"/>
<rect x="734.44" y="1090.00" width="1.95" height="56.50" fill="#f24a4a"/>
<rect x="730.77" y="1105.60" width="9.3" height="10.40" fill="#f24a4a"/>
<rect x="747.57" y="1099.10" width="1.95" height="45.90" fill="#26a69a"/>
<rect x="743.89" y="1114.60" width="9.3" height="1.65" fill="#26a69a"/>
<rect x="759.38" y="1115.00" width="1.95" height="30.00" fill="#f24a4a"/>
<rect x="755.71" y="1115.00" width="9.3" height="5.00" fill="#f24a4a"/>
<rect x="771.19" y="1115.00" width="1.95" height="28.75" fill="#26a69a"/>
<rect x="767.52" y="1118.40" width="9.3" height="1.60" fill="#26a69a"/>
<rect x="783.01" y="1098.10" width="1.95" height="25.65" fill="#26a69a"/>
<rect x="779.33" y="1099.10" width="9.3" height="19.65" fill="#26a69a"/>
<rect x="796.13" y="1082.00" width="1.95" height="41.75" fill="#f24a4a"/>
<rect x="792.46" y="1101.60" width="9.3" height="15.90" fill="#f24a4a"/>
<rect x="807.94" y="1037.20" width="1.95" height="93.40" fill="#26a69a"/>
<rect x="804.27" y="1041.00" width="9.3" height="77.75" fill="#26a69a"/>
<rect x="819.76" y="1031.90" width="1.95" height="29.00" fill="#f24a4a"/>
<rect x="816.08" y="1041.00" width="9.3" height="13.40" fill="#f24a4a"/>
<rect x="831.57" y="1019.00" width="1.95" height="62.90" fill="#f24a4a"/>
<rect x="827.89" y="1054.40" width="9.3" height="26.50" fill="#f24a4a"/>
<rect x="843.38" y="1061.00" width="1.95" height="47.10" fill="#f24a4a"/>
<rect x="839.71" y="1079.40" width="9.3" height="2.70" fill="#f24a4a"/>
<rect x="856.51" y="1030.60" width="1.95" height="72.30" fill="#26a69a"/>
<rect x="852.83" y="1050.40" width="9.3" height="31.50" fill="#26a69a"/>
<rect x="868.32" y="1024.10" width="1.95" height="76.30" fill="#26a69a"/>
<rect x="864.64" y="1040.00" width="9.3" height="11.60" fill="#26a69a"/>
<rect x="880.13" y="942.50" width="1.95" height="109.10" fill="#26a69a"/>
<rect x="876.46" y="949.40" width="9.3" height="94.60" fill="#26a69a"/>
<rect x="891.94" y="900.60" width="1.95" height="55.40" fill="#26a69a"/>
<rect x="888.27" y="948.10" width="9.3" height="2.50" fill="#26a69a"/>
<rect x="903.76" y="920.40" width="1.95" height="47.35" fill="#26a69a"/>
<rect x="900.08" y="941.50" width="9.3" height="7.90" fill="#26a69a"/>
<rect x="916.88" y="936.25" width="1.95" height="56.50" fill="#f24a4a"/>
<rect x="913.21" y="941.50" width="9.3" height="46.00" fill="#f24a4a"/>
<rect x="928.69" y="934.00" width="1.95" height="71.60" fill="#26a69a"/>
<rect x="925.02" y="935.00" width="9.3" height="61.50" fill="#26a69a"/>
<rect x="940.51" y="915.00" width="1.95" height="48.75" fill="#26a69a"/>
<rect x="936.83" y="928.40" width="9.3" height="9.10" fill="#26a69a"/>
<rect x="952.32" y="916.50" width="1.95" height="56.40" fill="#f24a4a"/>
<rect x="948.64" y="923.10" width="9.3" height="8.80" fill="#f24a4a"/>
<rect x="964.13" y="904.60" width="1.95" height="55.40" fill="#26a69a"/>
<rect x="960.46" y="915.40" width="9.3" height="16.70" fill="#26a69a"/>
<rect x="977.26" y="914.00" width="1.95" height="39.10" fill="#f24a4a"/>
<rect x="973.58" y="915.40" width="9.3" height="32.50" fill="#f24a4a"/>
<rect x="989.07" y="889.10" width="1.95" height="65.50" fill="#26a69a"/>
<rect x="985.39" y="906.25" width="9.3" height="43.15" fill="#26a69a"/>
<rect x="1000.88" y="873.10" width="1.95" height="60.65" fill="#f24a4a"/>
<rect x="997.21" y="906.25" width="9.3" height="24.75" fill="#f24a4a"/>
<rect x="1012.69" y="908.75" width="1.95" height="73.15" fill="#f24a4a"/>
<rect x="1009.02" y="928.40" width="9.3" height="30.35" fill="#f24a4a"/>
<rect x="1024.51" y="892.75" width="1.95" height="82.85" fill="#26a69a"/>
<rect x="1020.83" y="921.60" width="9.3" height="37.15" fill="#26a69a"/>
<rect x="1037.63" y="891.50" width="1.95" height="43.25" fill="#f24a4a"/>
<rect x="1033.96" y="920.40" width="9.3" height="11.70" fill="#f24a4a"/>
<rect x="1049.44" y="930.00" width="1.95" height="76.90" fill="#f24a4a"/>
<rect x="1045.77" y="930.90" width="9.3" height="64.30" fill="#f24a4a"/>
<rect x="1061.26" y="937.40" width="1.95" height="65.80" fill="#26a69a"/>
<rect x="1057.58" y="957.20" width="9.3" height="38.00" fill="#26a69a"/>
<rect x="1073.07" y="919.00" width="1.95" height="57.80" fill="#26a69a"/>
<rect x="1069.39" y="953.10" width="9.3" height="10.60" fill="#26a69a"/>
<rect x="1084.88" y="906.00" width="1.95" height="51.30" fill="#26a69a"/>
<rect x="1081.21" y="923.00" width="9.3" height="28.90" fill="#26a69a"/>
<rect x="1098.01" y="885.00" width="1.95" height="61.60" fill="#f24a4a"/>
<rect x="1094.33" y="924.30" width="9.3" height="14.40" fill="#f24a4a"/>
<rect x="1109.82" y="932.20" width="1.95" height="67.00" fill="#f24a4a"/>
<rect x="1106.14" y="937.40" width="9.3" height="59.50" fill="#f24a4a"/>
<rect x="1121.63" y="957.10" width="1.95" height="51.60" fill="#26a69a"/>
<rect x="1117.96" y="982.10" width="9.3" height="13.00" fill="#26a69a"/>
<rect x="1133.44" y="877.25" width="1.95" height="111.55" fill="#26a69a"/>
<rect x="1129.77" y="895.50" width="9.3" height="88.00" fill="#26a69a"/>
<rect x="1145.26" y="858.75" width="1.95" height="58.95" fill="#f24a4a"/>
<rect x="1141.58" y="891.50" width="9.3" height="18.40" fill="#f24a4a"/>
<rect x="1158.38" y="866.90" width="1.95" height="61.50" fill="#26a69a"/>
<rect x="1154.71" y="875.90" width="9.3" height="35.10" fill="#26a69a"/>
<rect x="1170.19" y="854.75" width="1.95" height="70.95" fill="#f24a4a"/>
<rect x="1166.52" y="875.90" width="9.3" height="5.00" fill="#f24a4a"/>
<rect x="1182.01" y="834.00" width="1.95" height="61.90" fill="#26a69a"/>
<rect x="1178.33" y="860.40" width="9.3" height="22.10" fill="#26a69a"/>
<rect x="1193.82" y="854.75" width="1.95" height="51.25" fill="#f24a4a"/>
<rect x="1190.14" y="859.00" width="9.3" height="23.50" fill="#f24a4a"/>
<rect x="1205.63" y="811.50" width="1.95" height="72.00" fill="#26a69a"/>
<rect x="1201.96" y="835.40" width="9.3" height="48.10" fill="#26a69a"/>
<rect x="1218.76" y="823.40" width="1.95" height="64.10" fill="#f24a4a"/>
<rect x="1215.08" y="837.90" width="9.3" height="18.00" fill="#f24a4a"/>
<rect x="1230.57" y="849.60" width="1.95" height="56.40" fill="#f24a4a"/>
<rect x="1226.89" y="854.75" width="9.3" height="32.75" fill="#f24a4a"/>
<rect x="1242.38" y="864.10" width="1.95" height="68.00" fill="#f24a4a"/>
<rect x="1238.71" y="886.25" width="9.3" height="7.75" fill="#f24a4a"/>
<rect x="1254.19" y="476.50" width="1.95" height="420.40" fill="#26a69a"/>
<rect x="1250.52" y="584.00" width="9.3" height="310.00" fill="#26a69a"/>
<rect x="1266.01" y="577.75" width="1.95" height="157.25" fill="#f24a4a"/>
<rect x="1262.33" y="588.10" width="9.3" height="34.40" fill="#f24a4a"/>
<rect x="1279.13" y="606.90" width="1.95" height="109.00" fill="#f24a4a"/>
<rect x="1275.46" y="621.00" width="9.3" height="73.75" fill="#f24a4a"/>
<rect x="1290.94" y="656.90" width="1.95" height="82.20" fill="#f24a4a"/>
<rect x="1287.27" y="692.10" width="9.3" height="8.90" fill="#f24a4a"/>
<rect x="1302.76" y="614.40" width="1.95" height="89.35" fill="#26a69a"/>
<rect x="1299.08" y="631.50" width="9.3" height="68.25" fill="#26a69a"/>
<rect x="1314.57" y="548.75" width="1.95" height="118.50" fill="#26a69a"/>
<rect x="1310.89" y="548.75" width="9.3" height="84.15" fill="#26a69a"/>
<rect x="1326.38" y="541.00" width="1.95" height="99.60" fill="#f24a4a"/>
<rect x="1322.71" y="548.75" width="9.3" height="74.85" fill="#f24a4a"/>
<rect x="1339.51" y="577.75" width="1.95" height="69.50" fill="#26a69a"/>
<rect x="1335.83" y="577.75" width="9.3" height="39.35" fill="#26a69a"/>
<rect x="1351.32" y="541.00" width="1.95" height="94.60" fill="#f24a4a"/>
<rect x="1347.64" y="577.75" width="9.3" height="57.85" fill="#f24a4a"/>
<rect x="1363.13" y="632.90" width="1.95" height="95.85" fill="#f24a4a"/>
<rect x="1359.46" y="632.90" width="9.3" height="80.20" fill="#f24a4a"/>
<rect x="1374.94" y="614.40" width="1.95" height="135.20" fill="#26a69a"/>
<rect x="1371.27" y="642.10" width="9.3" height="71.00" fill="#26a69a"/>
<rect x="1386.76" y="625.00" width="1.95" height="46.00" fill="#26a69a"/>
<rect x="1383.08" y="634.40" width="9.3" height="5.20" fill="#26a69a"/>
<rect x="1399.88" y="614.40" width="1.95" height="50.20" fill="#f24a4a"/>
<rect x="1396.21" y="632.90" width="9.3" height="17.10" fill="#f24a4a"/>
<rect x="1411.69" y="638.10" width="1.95" height="50.00" fill="#f24a4a"/>
<rect x="1408.02" y="648.75" width="9.3" height="4.15" fill="#f24a4a"/>
<rect x="1423.51" y="650.00" width="1.95" height="77.50" fill="#f24a4a"/>
<rect x="1419.83" y="650.00" width="9.3" height="68.10" fill="#f24a4a"/>
<rect x="1435.32" y="699.75" width="1.95" height="36.85" fill="#26a69a"/>
<rect x="1431.64" y="714.40" width="9.3" height="5.20" fill="#26a69a"/>
<rect x="1447.13" y="698.50" width="1.95" height="29.00" fill="#26a69a"/>
<rect x="1443.46" y="706.25" width="9.3" height="11.85" fill="#26a69a"/>
<rect x="1460.26" y="674.75" width="1.95" height="44.85" fill="#f24a4a"/>
<rect x="1456.58" y="708.10" width="9.3" height="6.30" fill="#f24a4a"/>
<rect x="1472.07" y="681.40" width="1.95" height="88.00" fill="#f24a4a"/>
<rect x="1468.39" y="714.30" width="9.3" height="22.30" fill="#f24a4a"/>
<rect x="1483.88" y="725.00" width="1.95" height="49.60" fill="#f24a4a"/>
<rect x="1480.21" y="736.25" width="9.3" height="6.85" fill="#f24a4a"/>
<rect x="1495.69" y="685.40" width="1.95" height="82.70" fill="#f24a4a"/>
<rect x="1492.02" y="741.90" width="9.3" height="15.60" fill="#f24a4a"/>
<rect x="1507.51" y="740.60" width="1.95" height="41.90" fill="#26a69a"/>
<rect x="1503.83" y="755.25" width="9.3" height="3.50" fill="#26a69a"/>
<rect x="1520.63" y="735.40" width="1.95" height="28.60" fill="#f24a4a"/>
<rect x="1516.96" y="755.25" width="9.3" height="2.50" fill="#f24a4a"/>
<rect x="1532.44" y="684.00" width="1.95" height="84.10" fill="#26a69a"/>
<rect x="1528.77" y="743.10" width="9.3" height="14.40" fill="#26a69a"/>
<rect x="1544.26" y="710.40" width="1.95" height="52.50" fill="#26a69a"/>
<rect x="1540.58" y="716.90" width="9.3" height="27.50" fill="#26a69a"/>
<rect x="1556.07" y="676.25" width="1.95" height="74.65" fill="#26a69a"/>
<rect x="1552.39" y="692.10" width="9.3" height="27.30" fill="#26a69a"/>
<rect x="1569.19" y="669.60" width="1.95" height="70.80" fill="#f24a4a"/>
<rect x="1565.52" y="693.40" width="9.3" height="27.50" fill="#f24a4a"/>
<rect x="1581.01" y="686.90" width="1.95" height="60.20" fill="#26a69a"/>
<rect x="1577.33" y="715.60" width="9.3" height="5.00" fill="#26a69a"/>
<rect x="1592.82" y="709.10" width="1.95" height="69.40" fill="#f24a4a"/>
<rect x="1589.14" y="715.60" width="9.3" height="61.90" fill="#f24a4a"/>
<rect x="1604.63" y="739.40" width="1.95" height="61.50" fill="#26a69a"/>
<rect x="1600.96" y="739.40" width="9.3" height="40.35" fill="#26a69a"/>
<rect x="1616.44" y="721.00" width="1.95" height="35.50" fill="#26a69a"/>
<rect x="1612.77" y="739.40" width="9.3" height="5.00" fill="#26a69a"/>
<rect x="1629.57" y="692.10" width="1.95" height="65.65" fill="#26a69a"/>
<rect x="1625.89" y="698.75" width="9.3" height="40.65" fill="#26a69a"/>
<rect x="1641.38" y="656.25" width="1.95" height="51.50" fill="#26a69a"/>
<rect x="1637.71" y="699.75" width="9.3" height="1.85" fill="#26a69a"/>
<rect x="1653.19" y="655.25" width="1.95" height="51.25" fill="#26a69a"/>
<rect x="1649.52" y="665.90" width="9.3" height="35.35" fill="#26a69a"/>
<rect x="1665.01" y="665.90" width="1.95" height="51.00" fill="#f24a4a"/>
<rect x="1661.33" y="665.90" width="9.3" height="44.70" fill="#f24a4a"/>
<rect x="1676.82" y="706.50" width="1.95" height="27.25" fill="#f24a4a"/>
<rect x="1673.14" y="706.50" width="9.3" height="22.10" fill="#f24a4a"/>
<rect x="1689.94" y="727.50" width="1.95" height="23.35" fill="#f24a4a"/>
<rect x="1686.27" y="727.50" width="9.3" height="5.20" fill="#f24a4a"/>
<rect x="1701.76" y="721.00" width="1.95" height="29.85" fill="#26a69a"/>
<rect x="1698.08" y="723.50" width="9.3" height="10.30" fill="#26a69a"/>
<rect x="1713.57" y="720.80" width="1.95" height="58.00" fill="#f24a4a"/>
<rect x="1709.89" y="725.00" width="9.3" height="43.20" fill="#f24a4a"/>
<rect x="1725.38" y="753.50" width="1.95" height="29.20" fill="#26a69a"/>
<rect x="1721.71" y="764.00" width="9.3" height="5.20" fill="#26a69a"/>
<rect x="1737.19" y="754.90" width="1.95" height="60.70" fill="#f24a4a"/>
<rect x="1733.52" y="764.00" width="9.3" height="34.50" fill="#f24a4a"/>
<rect x="1750.32" y="766.75" width="1.95" height="44.65" fill="#f24a4a"/>
<rect x="1746.64" y="794.30" width="9.3" height="6.80" fill="#f24a4a"/>
<rect x="1762.13" y="770.90" width="1.95" height="37.90" fill="#f24a4a"/>
<rect x="1758.46" y="799.60" width="9.3" height="5.40" fill="#f24a4a"/>
<rect x="1773.94" y="791.90" width="1.95" height="38.00" fill="#26a69a"/>
<rect x="1770.27" y="800.10" width="9.3" height="6.10" fill="#26a69a"/>
<rect x="1782.08" y="785.10" width="9.3" height="27.60" fill="#26a69a"/>
</g>
<rect x="115.0" y="1126.35" width="1668.0" height="1.5" fill="#d9423c"/>
<g font-family="Liberation Sans, sans-serif" font-weight="700" font-size="40.0">
<text transform="translate(171.18 332.60) scale(0.7551 1.0284)" fill="#07070f" stroke="#07070f" stroke-width="3.2" stroke-linejoin="round" opacity="0.9">L</text>
<text transform="translate(189.80 332.60) scale(0.9574 1.0284)" fill="#07070f" stroke="#07070f" stroke-width="3.2" stroke-linejoin="round" opacity="0.9">o</text>
<text transform="translate(214.33 332.60) scale(0.9370 1.0284)" fill="#07070f" stroke="#07070f" stroke-width="3.2" stroke-linejoin="round" opacity="0.9">n</text>
<text transform="translate(238.28 332.60) scale(0.9253 1.0284)" fill="#07070f" stroke="#07070f" stroke-width="3.2" stroke-linejoin="round" opacity="0.9">d</text>
<text transform="translate(262.21 332.60) scale(0.9527 1.0284)" fill="#07070f" stroke="#07070f" stroke-width="3.2" stroke-linejoin="round" opacity="0.9">o</text>
<text transform="translate(286.76 332.60) scale(0.9629 1.0284)" fill="#07070f" stroke="#07070f" stroke-width="3.2" stroke-linejoin="round" opacity="0.9">n</text>
<text transform="translate(171.18 332.60) scale(0.7551 1.0284)" fill="#46195c" stroke="#46195c" stroke-width="0.6" stroke-linejoin="round">L</text>
<text transform="translate(189.80 332.60) scale(0.9574 1.0284)" fill="#46195c" stroke="#46195c" stroke-width="0.6" stroke-linejoin="round">o</text>
<text transform="translate(214.33 332.60) scale(0.9370 1.0284)" fill="#46195c" stroke="#46195c" stroke-width="0.6" stroke-linejoin="round">n</text>
<text transform="translate(238.28 332.60) scale(0.9253 1.0284)" fill="#46195c" stroke="#46195c" stroke-width="0.6" stroke-linejoin="round">d</text>
<text transform="translate(262.21 332.60) scale(0.9527 1.0284)" fill="#46195c" stroke="#46195c" stroke-width="0.6" stroke-linejoin="round">o</text>
<text transform="translate(286.76 332.60) scale(0.9629 1.0284)" fill="#46195c" stroke="#46195c" stroke-width="0.6" stroke-linejoin="round">n</text>
</g>
<g font-family="Liberation Sans, sans-serif" font-weight="700" font-size="40.0">
<text transform="translate(1043.60 335.80) scale(0.9547 0.9666)" fill="#0a0712" stroke="#0a0712" stroke-width="3.2" stroke-linejoin="round" opacity="0.9">N</text>
<text transform="translate(1071.94 335.80) scale(0.9034 0.9666)" fill="#0a0712" stroke="#0a0712" stroke-width="3.2" stroke-linejoin="round" opacity="0.9">e</text>
<text transform="translate(1092.40 335.80) scale(0.8815 0.9666)" fill="#0a0712" stroke="#0a0712" stroke-width="3.2" stroke-linejoin="round" opacity="0.9">w</text>
<text transform="translate(1131.75 335.80) scale(0.8007 0.9666)" fill="#0a0712" stroke="#0a0712" stroke-width="3.2" stroke-linejoin="round" opacity="0.9">Y</text>
<text transform="translate(1149.88 335.80) scale(0.9081 0.9666)" fill="#0a0712" stroke="#0a0712" stroke-width="3.2" stroke-linejoin="round" opacity="0.9">o</text>
<text transform="translate(1171.48 335.80) scale(1.0711 0.9666)" fill="#0a0712" stroke="#0a0712" stroke-width="3.2" stroke-linejoin="round" opacity="0.9">r</text>
<text transform="translate(1187.06 335.80) scale(0.8003 0.9666)" fill="#0a0712" stroke="#0a0712" stroke-width="3.2" stroke-linejoin="round" opacity="0.9">k</text>
<text transform="translate(1043.60 335.80) scale(0.9547 0.9666)" fill="#1f4837" stroke="#1f4837" stroke-width="0.6" stroke-linejoin="round">N</text>
<text transform="translate(1071.94 335.80) scale(0.9034 0.9666)" fill="#1f4837" stroke="#1f4837" stroke-width="0.6" stroke-linejoin="round">e</text>
<text transform="translate(1092.40 335.80) scale(0.8815 0.9666)" fill="#1f4837" stroke="#1f4837" stroke-width="0.6" stroke-linejoin="round">w</text>
<text transform="translate(1131.75 335.80) scale(0.8007 0.9666)" fill="#1f4837" stroke="#1f4837" stroke-width="0.6" stroke-linejoin="round">Y</text>
<text transform="translate(1149.88 335.80) scale(0.9081 0.9666)" fill="#1f4837" stroke="#1f4837" stroke-width="0.6" stroke-linejoin="round">o</text>
<text transform="translate(1171.48 335.80) scale(1.0711 0.9666)" fill="#1f4837" stroke="#1f4837" stroke-width="0.6" stroke-linejoin="round">r</text>
<text transform="translate(1187.06 335.80) scale(0.8003 0.9666)" fill="#1f4837" stroke="#1f4837" stroke-width="0.6" stroke-linejoin="round">k</text>
</g>
</svg>
</body></html>
